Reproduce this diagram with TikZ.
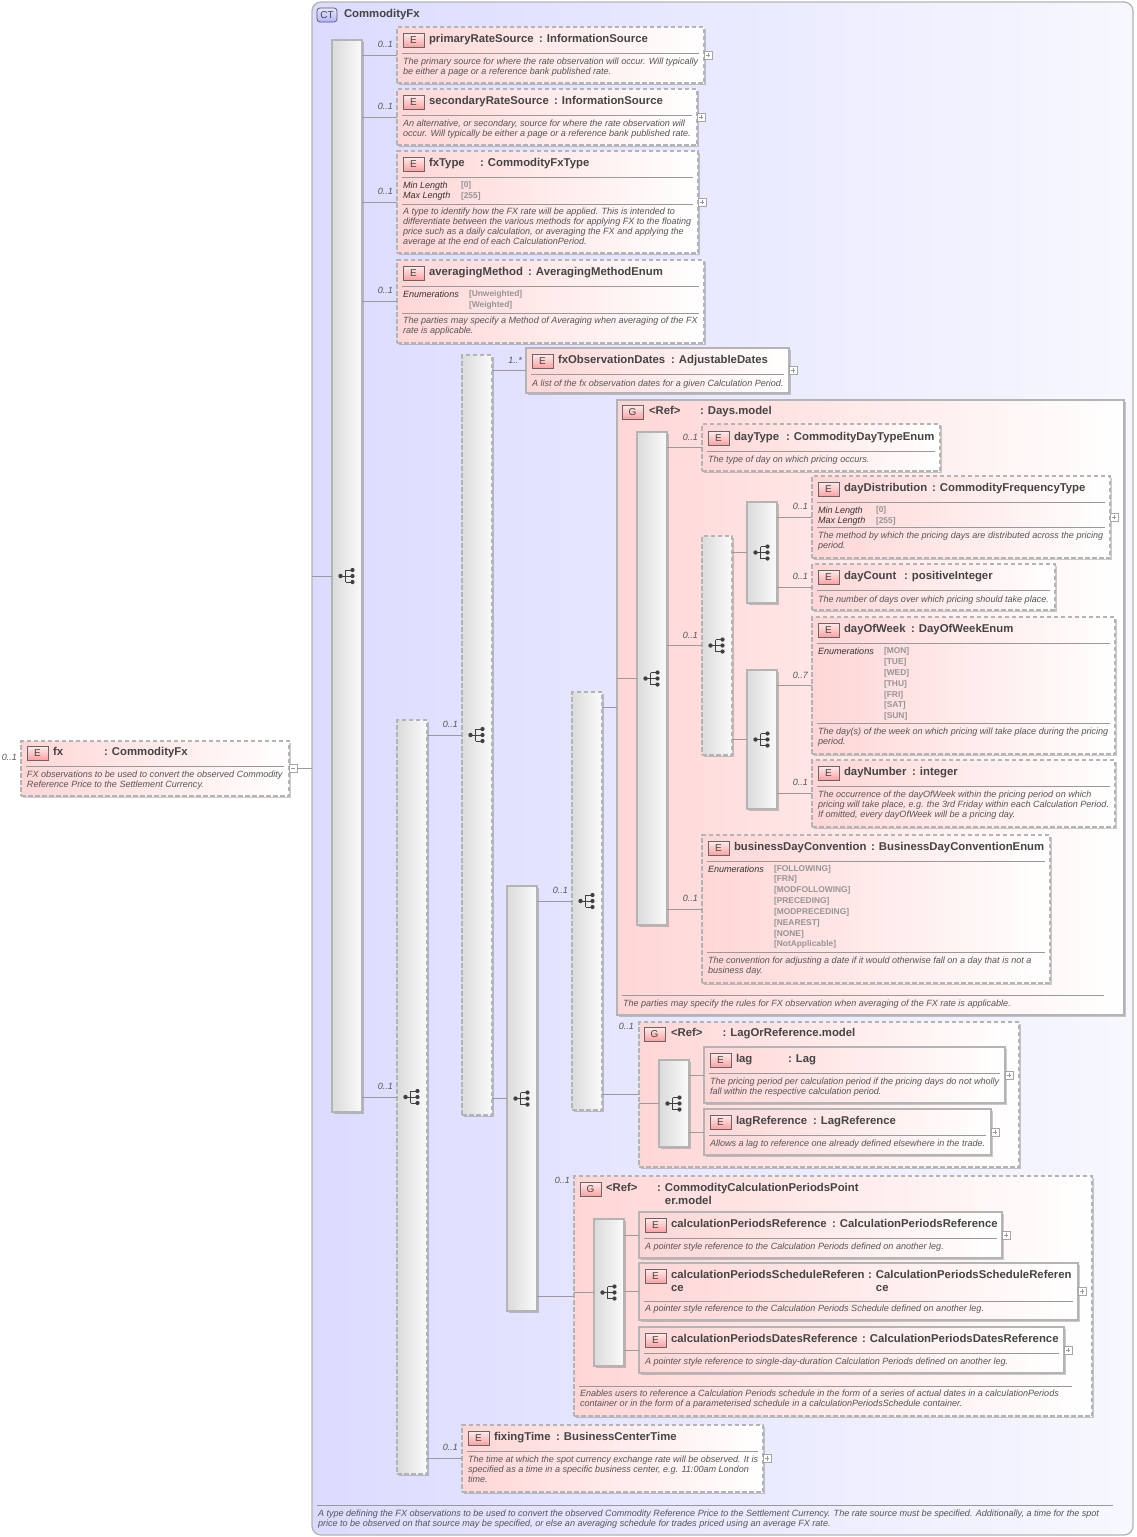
\documentclass[tikz,border=0pt]{standalone}
\usepackage{fontspec}
\setmainfont{Liberation Sans}
\usetikzlibrary{shadows}
\definecolor{bordc}{HTML}{B4B4B4}
\definecolor{pinkc}{HTML}{FFD6D6}
\definecolor{txtc}{HTML}{444444}
\definecolor{descc}{HTML}{555555}
\definecolor{enumc}{HTML}{959595}
\definecolor{connc}{HTML}{9A9A9A}
\definecolor{badget}{HTML}{FFE8E8}
\definecolor{badgeb}{HTML}{FFA0A0}
\tikzset{
  boxbase/.style={rectangle,inner sep=0pt,outer sep=0pt,draw=bordc,line width=1.2pt,
    drop shadow={shadow xshift=1.6pt,shadow yshift=-1.6pt,opacity=.2,fill=black}},
  elsolid/.style={boxbase,left color=pinkc,right color=white},
  eldash/.style={boxbase,dashed,dash pattern=on 4.5pt off 2.5pt,left color=pinkc,right color=white},
  barsolid/.style={boxbase,left color=black!14,right color=black!2},
  bardash/.style={barsolid,dash pattern=on 4.5pt off 2.5pt},
  ctbox/.style={rectangle,inner sep=0pt,outer sep=0pt,draw=bordc,line width=1.3pt,rounded corners=9pt,
    left color=blue!14,right color=blue!3},
  badge/.style={rectangle,draw=black!60,line width=.7pt,inner sep=0pt,outer sep=0pt,minimum width=21pt,minimum height=13.5pt,
    top color=badget,bottom color=badgeb,text=txtc,font=\fontsize{10}{12}\selectfont},
  ctbadge/.style={badge,rounded corners=3pt,top color=blue!10,bottom color=blue!30,draw=black!65},
  titlef/.style={anchor=north west,inner sep=0pt,outer sep=0pt,align=left,text=txtc,font=\bfseries\fontsize{11.35}{13}\selectfont},
  descf/.style={anchor=north west,inner sep=0pt,outer sep=0pt,yshift=-.7pt,align=left,text=descc,font=\itshape\fontsize{9.05}{10}\selectfont},
  facetf/.style={descf,text=black!80},
  enumf/.style={anchor=north west,inner sep=0pt,outer sep=0pt,align=left,text=enumc,font=\bfseries\fontsize{8.4}{10.85}\selectfont},
  multf/.style={anchor=east,inner sep=0pt,outer sep=0pt,text=descc,font=\itshape\fontsize{9.05}{10}\selectfont},
  sepl/.style={draw=black!40,line width=.9pt},
  conn/.style={draw=connc,line width=.8pt},
  expb/.style={rectangle,draw=black!35,fill=white,line width=.6pt,inner sep=0pt,outer sep=0pt,minimum size=8pt,anchor=west},
  expm/.style={draw=black!40,line width=.6pt},
  iconl/.style={draw=black!75,line width=.8pt},
  iconf/.style={fill=black!75},
}
\newcommand\mkbox[6]{\node[#2,anchor=north west,minimum width={(#5-#3)*1pt},minimum height={(#6-#4)*1pt}] (#1) at (#3,#4) {};}
% name, letter, box left, centre y of title, name text, x of colon, colon text
\newcommand\mkhead[7]{%
  \node[badge] (#1-b) at (#3+16.5,#4+1.5) {#2};
  \node[titlef] (#1-t) at (#3+32,#4-5.3) {\strut #5};
  \node[titlef] (#1-c) at (#6,#4-5.3) {\strut #7};}
\newcommand\mksep[3]{\draw[sepl] (#1,#3) -- (#2,#3);}
\newcommand\mkdesc[4]{\node[#1] (#2) at #3 {\strut #4};}
\newcommand\mkmult[4]{\node[multf] (#1) at (#3,#4) {#2};}
\newcommand\mkexp[1]{\node[expb] (#1-x) at (#1.east) {};
  \draw[expm] ([xshift=1.8pt]#1-x.west) -- ([xshift=-1.8pt]#1-x.east) ([yshift=1.8pt]#1-x.south) -- ([yshift=-1.8pt]#1-x.north);}
\newcommand\mkconn[2]{\draw[conn] (#1.east |- #2.west) -- (#2.west);}
\newcommand\mkicon[1]{\begin{scope}[shift={(#1.center)}]
  \draw[iconl] (-6.5,0) -- (-1.5,0) (-1.5,-6) -- (-1.5,6) (-1.5,-6) -- (5.5,-6) (-1.5,0) -- (5.5,0) (-1.5,6) -- (5.5,6);
  \fill[iconf] (-6.5,0) circle (2.2);
  \fill[iconf] (5.5,-6) circle (2.1) (5.5,0) circle (2.1) (5.5,6) circle (2.1);
\end{scope}}
\begin{document}
\begin{tikzpicture}[x=1pt,y=-1pt]
\useasboundingbox (0,0) rectangle (1137,1537);
\fill[white] (0,0) rectangle (1137,1537);
%% complex type
\mkbox{ct}{ctbox}{312}{2}{1133}{1535}
\node[ctbadge,minimum width=20pt,minimum height=14pt] (ct-b) at (327,15) {CT};
\node[titlef] (ct-t) at (344,8.7) {\strut CommodityFx};
\mksep{317}{1113}{1505}
\mkdesc{descf}{ct-d}{(318,1508.8)}{A type defining the FX observations to be used to convert the observed Commodity Reference Price to the Settlement Currency. The rate source must be specified. Additionally, a time for the spot\\price to be observed on that source may be specified, or else an averaging schedule for trades priced using an average FX rate.}
%% root element
\mkbox{fx}{eldash}{21}{741}{289}{796}
\mkhead{fx}{E}{21}{752}{fx}{104}{: CommodityFx}
\mksep{26}{284}{766}
\mkdesc{descf}{fx-d}{(27,769.8)}{FX observations to be used to convert the observed Commodity\\Reference Price to the Settlement Currency.}
\mkmult{fx-m}{0..1}{17}{757}
\node[expb] (fx-x) at (fx.east) {};
\draw[expm] ([xshift=1.8pt]fx-x.west) -- ([xshift=-1.8pt]fx-x.east);
%% main sequence
\mkbox{mainb}{barsolid}{332}{40}{362}{1112}
\mkicon{mainb}
%% primaryRateSource
\mkbox{prs}{eldash}{397}{27}{704}{83}
\mkhead{prs}{E}{397}{39}{primaryRateSource}{539}{: InformationSource}
\mksep{402}{699}{53}
\mkdesc{descf}{prs-d}{(403,56.8)}{The primary source for where the rate observation will occur. Will typically\\be either a page or a reference bank published rate.}
\mkmult{prs-m}{0..1}{393}{44}
\mkexp{prs}
%% secondaryRateSource
\mkbox{srs}{eldash}{397}{89}{697}{145}
\mkhead{srs}{E}{397}{101}{secondaryRateSource}{554}{: InformationSource}
\mksep{402}{692}{115}
\mkdesc{descf}{srs-d}{(403,118.8)}{An alternative, or secondary, source for where the rate observation will\\occur. Will typically be either a page or a reference bank published rate.}
\mkmult{srs-m}{0..1}{393}{106}
\mkexp{srs}
%% fxType
\mkbox{fxt}{eldash}{397}{151}{698}{253}
\mkhead{fxt}{E}{397}{163}{fxType}{480}{: CommodityFxType}
\mksep{402}{693}{177}
\mkdesc{facetf}{fxt-f}{(403,180.8)}{Min Length\\Max Length}
\mkdesc{enumf}{fxt-v}{(461,180)}{[0]\\{}[255]}
\mksep{402}{693}{204}
\mkdesc{descf}{fxt-d}{(403,206.6)}{A type to identify how the FX rate will be applied. This is intended to\\differentiate between the various methods for applying FX to the floating\\price such as a daily calculation, or averaging the FX and applying the\\average at the end of each CalculationPeriod.}
\mkmult{fxt-m}{0..1}{393}{191}
\mkexp{fxt}
%% averagingMethod
\mkbox{avg}{eldash}{397}{260}{704}{343}
\mkhead{avg}{E}{397}{272}{averagingMethod}{528}{: AveragingMethodEnum}
\mksep{402}{699}{286}
\mkdesc{facetf}{avg-f}{(403,289.8)}{Enumerations}
\mkdesc{enumf}{avg-v}{(469,289)}{[Unweighted]\\{}[Weighted]}
\mksep{402}{699}{313}
\mkdesc{descf}{avg-d}{(403,315.8)}{The parties may specify a Method of Averaging when averaging of the FX\\rate is applicable.}
\mkmult{avg-m}{0..1}{393}{290}
%% second level sequence
\mkbox{bara}{bardash}{397}{720}{427}{1474}
\mkicon{bara}
\mkmult{bara-m}{0..1}{393}{1086}
\mkbox{barb}{bardash}{462}{355}{492}{1115}
\mkicon{barb}
\mkmult{barb-m}{0..1}{458}{724}
%% fxObservationDates
\mkbox{obs}{elsolid}{526}{348}{789}{393}
\mkhead{obs}{E}{526}{360}{fxObservationDates}{671}{: AdjustableDates}
\mksep{531}{784}{374}
\mkdesc{descf}{obs-d}{(532,378.8)}{A list of the fx observation dates for a given Calculation Period.}
\mkmult{obs-m}{1..*}{522}{360}
\mkexp{obs}
\mkbox{barc}{barsolid}{507}{886}{537}{1311}
\mkicon{barc}
\mkbox{bard}{bardash}{572}{692}{602}{1110}
\mkicon{bard}
\mkmult{bard-m}{0..1}{568}{890}
%% Days.model
\mkbox{days}{elsolid}{617}{400}{1124}{1015}
\node[badge] (days-b) at (632.5,412.5) {G};
\node[titlef] (days-t) at (649,405.7) {\strut <Ref>};
\node[titlef] (days-c) at (700,405.7) {\strut : Days.model};
\mksep{622}{1104}{995}
\mkdesc{descf}{days-d}{(623,998.8)}{The parties may specify the rules for FX observation when averaging of the FX rate is applicable.}
\mkbox{bare}{barsolid}{637}{432}{667}{925}
\mkicon{bare}
%% dayType
\mkbox{dtp}{eldash}{702}{424}{940}{471}
\mkhead{dtp}{E}{702}{437}{dayType}{786}{: CommodityDayTypeEnum}
\mksep{707}{935}{451}
\mkdesc{descf}{dtp-d}{(708,454.8)}{The type of day on which pricing occurs.}
\mkmult{dtp-m}{0..1}{698}{437}
\mkbox{barf}{bardash}{702}{536}{732}{755}
\mkicon{barf}
\mkmult{barf-m}{0..1}{698}{635}
\mkbox{barg}{barsolid}{747}{502}{777}{603}
\mkicon{barg}
%% dayDistribution
\mkbox{ddi}{eldash}{812}{476}{1110}{558}
\mkhead{ddi}{E}{812}{488}{dayDistribution}{932}{: CommodityFrequencyType}
\mksep{817}{1105}{502}
\mkdesc{facetf}{ddi-f}{(818,505.8)}{Min Length\\Max Length}
\mkdesc{enumf}{ddi-v}{(876,505)}{[0]\\{}[255]}
\mksep{817}{1105}{527}
\mkdesc{descf}{ddi-d}{(818,530.8)}{The method by which the pricing days are distributed across the pricing\\period.}
\mkmult{ddi-m}{0..1}{808}{506}
\mkexp{ddi}
%% dayCount
\mkbox{dcn}{eldash}{812}{564}{1055}{610}
\mkhead{dcn}{E}{812}{576}{dayCount}{904}{: positiveInteger}
\mksep{817}{1050}{590}
\mkdesc{descf}{dcn-d}{(818,594.8)}{The number of days over which pricing should take place.}
\mkmult{dcn-m}{0..1}{808}{576}
\mkbox{barh}{barsolid}{747}{670}{777}{809}
\mkicon{barh}
%% dayOfWeek
\mkbox{dow}{eldash}{812}{617}{1115}{754}
\mkhead{dow}{E}{812}{629}{dayOfWeek}{911}{: DayOfWeekEnum}
\mksep{817}{1110}{643}
\mkdesc{facetf}{dow-f}{(818,646.8)}{Enumerations}
\mkdesc{enumf}{dow-v}{(884,646)}{[MON]\\{}[TUE]\\{}[WED]\\{}[THU]\\{}[FRI]\\{}[SAT]\\{}[SUN]}
\mksep{817}{1110}{723}
\mkdesc{descf}{dow-d}{(818,726.8)}{The day(s) of the week on which pricing will take place during the pricing\\period.}
\mkmult{dow-m}{0..7}{808}{675}
%% dayNumber
\mkbox{dnb}{eldash}{812}{760}{1115}{827}
\mkhead{dnb}{E}{812}{772}{dayNumber}{912}{: integer}
\mksep{817}{1110}{786}
\mkdesc{descf}{dnb-d}{(818,789.8)}{The occurrence of the dayOfWeek within the pricing period on which\\pricing will take place, e.g. the 3rd Friday within each Calculation Period.\\If omitted, every dayOfWeek will be a pricing day.}
\mkmult{dnb-m}{0..1}{808}{782}
%% businessDayConvention
\mkbox{bdc}{eldash}{702}{835}{1050}{983}
\mkhead{bdc}{E}{702}{847}{businessDayConvention}{871}{: BusinessDayConventionEnum}
\mksep{707}{1045}{861}
\mkdesc{facetf}{bdc-f}{(708,864.8)}{Enumerations}
\mkdesc{enumf}{bdc-v}{(774,863.4)}{[FOLLOWING]\\{}[FRN]\\{}[MODFOLLOWING]\\{}[PRECEDING]\\{}[MODPRECEDING]\\{}[NEAREST]\\{}[NONE]\\{}[NotApplicable]}
\mksep{707}{1045}{952}
\mkdesc{descf}{bdc-d}{(708,955.8)}{The convention for adjusting a date if it would otherwise fall on a day that is not a\\business day.}
\mkmult{bdc-m}{0..1}{698}{898}
%% LagOrReference.model
\mkbox{lor}{eldash}{639}{1022}{1019}{1167}
\node[badge] (lor-b) at (654.5,1034.5) {G};
\node[titlef] (lor-t) at (671,1027.7) {\strut <Ref>};
\node[titlef] (lor-c) at (722.5,1027.7) {\strut : LagOrReference.model};
\mkmult{lor-m}{0..1}{634}{1026}
\mkbox{bari}{barsolid}{659}{1060}{689}{1147}
\mkicon{bari}
\mkbox{lag}{elsolid}{704}{1047}{1005}{1103}
\mkhead{lag}{E}{704}{1059}{lag}{788}{: Lag}
\mksep{709}{1000}{1073}
\mkdesc{descf}{lag-d}{(710,1076.8)}{The pricing period per calculation period if the pricing days do not wholly\\fall within the respective calculation period.}
\mkexp{lag}
\mkbox{lrf}{elsolid}{704}{1109}{991}{1155}
\mkhead{lrf}{E}{704}{1121}{lagReference}{813}{: LagReference}
\mksep{709}{986}{1135}
\mkdesc{descf}{lrf-d}{(710,1138.8)}{Allows a lag to reference one already defined elsewhere in the trade.}
\mkexp{lrf}
%% CommodityCalculationPeriodsPointer.model
\mkbox{ccp}{eldash}{574}{1176}{1092}{1416}
\node[badge] (ccp-b) at (590.5,1189.5) {G};
\node[titlef] (ccp-t) at (606,1182.7) {\strut <Ref>};
\node[titlef] (ccp-c) at (657,1182.7) {\strut : CommodityCalculationPeriodsPoint\\\phantom{: }er.model};
\mksep{579}{1072}{1386}
\mkdesc{descf}{ccp-d}{(580,1388.8)}{Enables users to reference a Calculation Periods schedule in the form of a series of actual dates in a calculationPeriods\\container or in the form of a parameterised schedule in a calculationPeriodsSchedule container.}
\mkmult{ccp-m}{0..1}{570}{1180}
\mkbox{barj}{barsolid}{594}{1219}{624}{1366}
\mkicon{barj}
\mkbox{cpr}{elsolid}{639}{1212}{1002}{1258}
\mkhead{cpr}{E}{639}{1224}{calculationPeriodsReference}{832}{: CalculationPeriodsReference}
\mksep{644}{997}{1238}
\mkdesc{descf}{cpr-d}{(645,1241.8)}{A pointer style reference to the Calculation Periods defined on another leg.}
\mkexp{cpr}
\mkbox{cps}{elsolid}{639}{1263}{1078}{1320}
\mkhead{cps}{E}{639}{1275}{calculationPeriodsScheduleReferen\\ce}{868}{: CalculationPeriodsScheduleReferen\\\phantom{: }ce}
\mksep{644}{1073}{1301}
\mkdesc{descf}{cps-d}{(645,1303.8)}{A pointer style reference to the Calculation Periods Schedule defined on another leg.}
\mkexp{cps}
\mkbox{cpd}{elsolid}{639}{1327}{1064}{1373}
\mkhead{cpd}{E}{639}{1339}{calculationPeriodsDatesReference}{862}{: CalculationPeriodsDatesReference}
\mksep{644}{1059}{1353}
\mkdesc{descf}{cpd-d}{(645,1356.8)}{A pointer style reference to single-day-duration Calculation Periods defined on another leg.}
\mkexp{cpd}
%% fixingTime
\mkbox{fix}{eldash}{462}{1425}{763}{1492}
\mkhead{fix}{E}{462}{1437}{fixingTime}{556}{: BusinessCenterTime}
\mksep{467}{758}{1451}
\mkdesc{descf}{fix-d}{(468,1454.8)}{The time at which the spot currency exchange rate will be observed. It is\\specified as a time in a specific business center, e.g. 11:00am London\\time.}
\mkmult{fix-m}{0..1}{458}{1447}
\mkexp{fix}
%% connectors
\draw[conn] (fx-x.east) -- (ct.west |- fx-x.east);
\draw[conn] (ct.west |- mainb.west) -- (mainb.west);
\mkconn{mainb}{prs}\mkconn{mainb}{srs}\mkconn{mainb}{fxt}\mkconn{mainb}{avg}\mkconn{mainb}{bara}
\mkconn{bara}{barb}\mkconn{bara}{fix}
\mkconn{barb}{obs}\mkconn{barb}{barc}
\mkconn{barc}{bard}\mkconn{barc}{ccp}
\mkconn{bard}{days}\mkconn{bard}{lor}
\draw[conn] (days.west |- bare.west) -- (bare.west);
\mkconn{bare}{dtp}\mkconn{bare}{barf}\mkconn{bare}{bdc}
\mkconn{barf}{barg}\mkconn{barf}{barh}
\mkconn{barg}{ddi}\mkconn{barg}{dcn}
\mkconn{barh}{dow}\mkconn{barh}{dnb}
\draw[conn] (lor.west |- bari.west) -- (bari.west);
\mkconn{bari}{lag}\mkconn{bari}{lrf}
\draw[conn] (ccp.west |- barj.west) -- (barj.west);
\mkconn{barj}{cpr}\mkconn{barj}{cps}\mkconn{barj}{cpd}
\end{tikzpicture}
\end{document}
